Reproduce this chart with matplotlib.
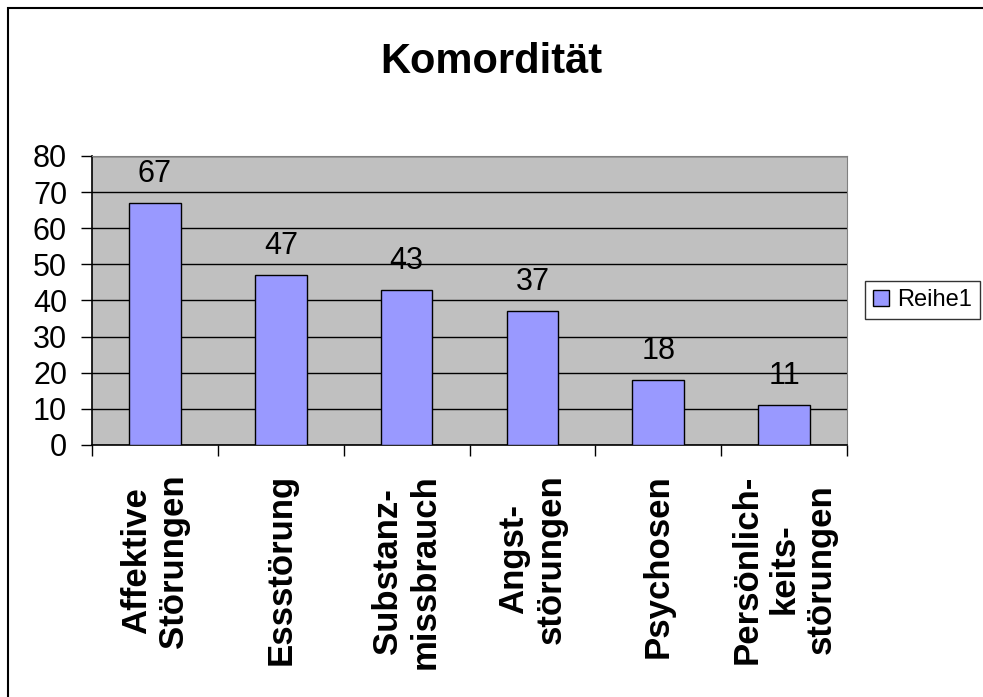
import matplotlib.pyplot as plt
from matplotlib.patches import Rectangle

categories = ['Affektive\nStörungen', 'Essstörung', 'Substanz-\nmissbrauch',
              'Angst-\nstörungen', 'Psychosen', 'Persönlich-\nkeits-\nstörungen']
values = [67, 47, 43, 37, 18, 11]
series_name = 'Reihe1'
title = 'Komordität'

plt.rcParams['font.family'] = ['Liberation Sans', 'DejaVu Sans']

fig = plt.figure(figsize=(9.83, 6.97), dpi=100)
ax = fig.add_axes([0.0936, 0.3616, 0.7681, 0.4146])

# outer chart border
fig.patches.append(Rectangle((8 / 983, -0.05), 1.1, (697 - 8) / 697 + 0.05,
                             transform=fig.transFigure, fill=False,
                             edgecolor='black', linewidth=1.5))

ax.set_facecolor('#C0C0C0')
x = list(range(len(values)))
bars = ax.bar(x, values, width=0.41, color='#9999FF', edgecolor='black',
              linewidth=1.0, label=series_name, zorder=3)
ax.bar_label(bars, labels=[str(v) for v in values], padding=10, fontsize=22)

ax.set_ylim(0, 80)
ax.set_xlim(-0.5, len(values) - 0.5)
ax.set_yticks(range(0, 81, 10))
ax.yaxis.grid(True, color='black', linewidth=1.0, zorder=1)
ax.set_axisbelow(True)
ax.tick_params(axis='y', direction='out', length=8, width=1, labelsize=22, pad=10)

ax.set_xticks([i - 0.5 for i in range(len(values) + 1)])
ax.set_xticklabels([])
ax.tick_params(axis='x', which='major', direction='out', length=8, width=1)
ax.set_xticks(x, minor=True)
ax.set_xticklabels(categories, minor=True, rotation=90, fontsize=25,
                   fontweight='bold', ha='center', va='top', multialignment='center',
                   linespacing=1.17)
ax.tick_params(axis='x', which='minor', length=0, pad=21)

for side in ['top', 'right']:
    ax.spines[side].set_color('#808080')
for side in ['left', 'bottom']:
    ax.spines[side].set_color('black')
    ax.spines[side].set_linewidth(1.2)

fig.text(0.5, 1 - 73 / 697, title, ha='center', va='baseline',
         fontsize=30, fontweight='bold')

leg = fig.legend(handles=[bars], labels=[series_name], loc='center left',
                 bbox_to_anchor=(865 / 983, 1 - 300 / 697), fontsize=17,
                 frameon=True, fancybox=False, edgecolor='black',
                 handlelength=0.68, handleheight=0.68, handletextpad=0.34,
                 borderpad=0.35, borderaxespad=0)
leg.get_frame().set_linewidth(1.0)

fig.savefig('out.png', dpi=100)
